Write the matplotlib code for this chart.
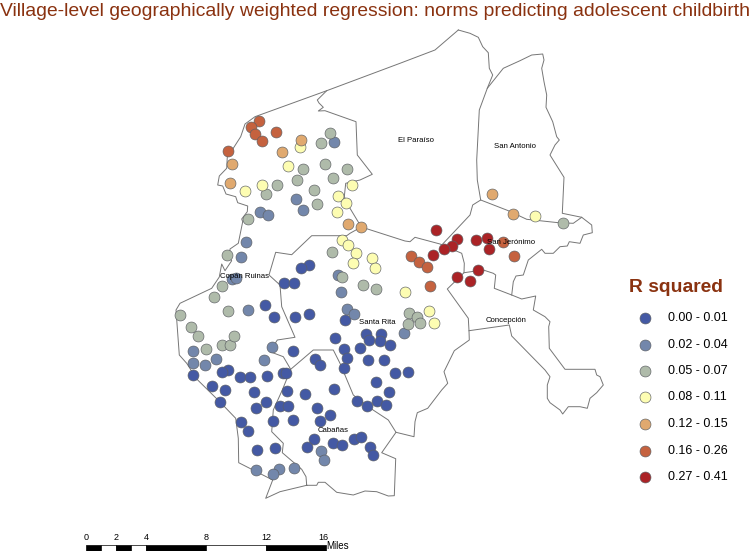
#!/usr/bin/env python3

import matplotlib
matplotlib.use('Agg')
import matplotlib.pyplot as plt

plt.rcParams['font.family'] = ['Liberation Sans', 'DejaVu Sans']

# Villages per class, positions
r1_x = [309.3, 300.7, 284.3, 294.3, 265.3, 273.7, 295.3, 308.7, 335, 293, 315, 320, 228.3, 222.3, 193, 240, 249.7, 266.7, 282.7, 286, 211.5, 224.8, 253.5, 287.3, 304.7, 333.5, 344.3, 220, 266, 255.7, 280, 287.7, 317.3, 330, 320, 292.7, 272.7, 241, 247.7, 314.3, 307, 333, 342, 354.3, 361, 370.3, 372.7, 257.3, 275, 376.3, 395, 407.7, 388.5, 377, 386.3, 357.3, 366.8, 345, 365.7, 381, 368.7, 379.7, 389.7, 343.7, 360, 346.7, 367.7, 384.3]
r1_y = [264.7, 268, 282.7, 282.7, 305, 316.7, 317.3, 314.3, 338, 350.7, 359.3, 364.7, 370.3, 372.3, 374.7, 377, 377, 375.7, 373.3, 372.7, 385.5, 389.8, 391.8, 391, 393.7, 388.5, 368.3, 402, 402.3, 408.3, 406, 405.7, 407.7, 414.7, 421.3, 420.3, 421.3, 422, 430.7, 439, 446.7, 442.7, 444.7, 438.7, 437.3, 446.7, 454.7, 450.3, 448, 381.7, 373.3, 371.7, 391.7, 400.8, 405.2, 400.7, 405.7, 320.3, 334, 334, 340, 341.3, 344.7, 349.3, 348, 358.3, 360, 359.7]

r2_x = [334, 295.7, 303, 260, 267.7, 246, 240.7, 231.7, 236, 247.7, 272.3, 263.7, 192.7, 192.7, 205, 216.3, 337.7, 340.7, 347, 353.7, 404.3, 321, 323.7, 255.7, 278.7, 273.3, 293.7]
r2_y = [142, 199, 210, 212.3, 215.3, 241.5, 257.3, 279.3, 278.3, 310, 346.7, 359.7, 351.3, 362.7, 365, 359, 275, 291.5, 308.7, 314.3, 333.3, 451.3, 460.3, 469.7, 468.7, 474, 468]

r3_x = [330, 321, 303.3, 324.7, 346.7, 333, 297, 277, 266, 314.3, 317, 247.7, 332, 227, 221.7, 214, 228.3, 180.3, 191, 197.7, 206, 221.7, 230, 233.7, 341.7, 362.7, 376.3, 408.7, 417.3, 420, 407.7, 563.3]
r3_y = [132.7, 143.3, 169, 163.7, 169.3, 177.7, 179.7, 185.3, 194.3, 189.7, 203.7, 218.7, 252.3, 254.7, 285.7, 297.3, 310.7, 314.7, 327.3, 336, 349.3, 345.3, 344.7, 336, 276.7, 284.7, 289.3, 312.7, 317.3, 322.7, 323.7, 223.3]

r4_x = [300.3, 287.7, 262, 245, 352.3, 338.3, 345.7, 337.3, 341.7, 348, 356, 372.3, 352.7, 375, 405, 428.7, 433.7, 534.7]
r4_y = [147.3, 165.7, 184.7, 191, 185.3, 195.7, 203.3, 211.7, 239.7, 245, 253, 258, 263.3, 268, 291.7, 311, 323.3, 215.7]

r5_x = [301, 282, 232, 229.7, 347.7, 361.3, 491.7, 512.7]
r5_y = [140, 151.7, 163.7, 183, 224.3, 227, 193.7, 214]

r6_x = [258.7, 251.3, 254.7, 262.3, 276, 228.3, 410.7, 418.7, 427, 502.7, 513.7, 430]
r6_y = [120.7, 127.3, 133.7, 141.3, 131.7, 150.7, 255.7, 262, 267, 242.3, 256.3, 285.7]

r7_x = [435.7, 457, 451.7, 444, 432.7, 475.7, 487.3, 488.7, 478.3, 456.7, 470.3]
r7_y = [230, 239.3, 246.3, 249, 255.3, 240.3, 238, 249, 270, 277, 280.7]

class_x = [r1_x, r2_x, r3_x, r4_x, r5_x, r6_x, r7_x]
class_y = [r1_y, r2_y, r3_y, r4_y, r5_y, r6_y, r7_y]
class_labels = ['0.00 - 0.01', '0.02 - 0.04', '0.05 - 0.07', '0.08 - 0.11', '0.12 - 0.15', '0.16 - 0.26', '0.27 - 0.41']
class_colors = ['#4459a4', '#7387ab', '#afbbaa', '#fdfdb2', '#e0a96f', '#c5623f', '#ab2326']

# Municipality borders
borders = [
    # outer edge, west and north
    [(458.3, 30), (435, 50), (400, 63.3), (326.7, 90.7), (255, 116.7), (245, 124), (240.7, 136.7), (231.7, 150.7), (227.3, 156.7), (226.7, 168.3), (219.3, 176), (217.7, 185), (222.7, 186), (226, 194), (235.7, 196.7), (237.7, 202.7), (247.7, 206), (247.3, 211.7), (241.7, 219), (242.7, 221.7), (238.3, 243.3), (230, 249), (229.5, 258), (231.7, 260.7), (225, 270.7), (221.7, 264), (219.3, 277), (211.7, 288.3), (180, 303.3), (176, 310), (179.3, 355), (186.7, 363.3), (196.7, 379), (220, 402), (235.7, 418.3), (238.3, 438.3), (238.7, 462.7), (272.7, 480), (265.7, 498.3), (280, 491.7), (306.7, 485.3), (316.7, 485.3), (318.3, 482.3), (325, 482.3), (336.7, 492.3), (353.3, 495), (365, 491), (376.7, 491.7), (388.3, 496), (394.3, 495.7), (395.7, 458.7), (381.7, 452.7), (396, 432.3), (414, 436.7), (415, 421.7), (417.3, 412.7), (427.7, 408.3), (441.7, 390), (447.7, 383.3), (444, 371.7), (454.3, 350.7), (469.3, 340), (469, 330.7), (468.3, 318.3), (447.3, 289), (464, 272.7), (464.3, 263.3), (461.7, 253.3), (440, 244), (415, 237.3), (410, 241.7), (405, 241), (361.3, 227), (350, 233.3), (346.7, 235.7), (311.7, 235.7), (291.7, 254.7), (275.7, 252.3), (269, 275), (280, 285), (281.7, 306.7), (295, 337.3), (277.3, 340), (270, 351.7), (283.3, 356.7), (290.7, 369.3), (282.3, 390), (273.3, 410), (271.7, 431.7), (283.3, 443.3), (282.3, 452.7), (301.7, 469.3), (306, 476.7), (306.7, 485.3)],
    # El Paraiso, north and east
    [(458.3, 30), (470, 33.3), (478.3, 37.3), (482.7, 46.7), (488.3, 52.7), (489.3, 68.3), (492.7, 75), (487.3, 88.3), (479.3, 110), (476.7, 160), (477.3, 180), (480.7, 200), (472.7, 205), (470, 215), (442.7, 244)],
    # San Antonio and east edge
    [(487.3, 88.3), (503.3, 68.3), (520, 60.7), (531.7, 55), (542.7, 54), (544, 60), (541.7, 68.3), (544, 81.7), (546.7, 95), (546, 107.3), (552.7, 121.7), (556.7, 136.7), (559.3, 140), (555, 145), (550, 155), (564, 177.3), (562.3, 213.3), (581.7, 217.3), (591.7, 225), (592.3, 232.7), (583.3, 235), (580, 243.3), (569.3, 241.7), (567.3, 246), (560, 246.7), (553.3, 253.3), (545, 253.3), (541.7, 249.3), (528.3, 260), (523.3, 275), (516, 276), (513.3, 281.7), (511.7, 295)],
    [(480.7, 200), (508.3, 210.7), (526.7, 219.3), (558.3, 222.7), (573.3, 223.3), (581.7, 217.3)],
    # Concepcion and the south east lobe
    [(464, 272.7), (483.3, 270), (493.3, 273.3), (495.7, 275), (494.3, 288.3), (511.7, 295), (521.7, 299), (535.7, 296), (533.3, 310), (545, 316.7), (550, 321.7), (548.7, 326.7), (549.3, 348.3), (565, 369.3), (595, 369.3), (596.7, 375), (600, 376.7), (603.3, 385), (596.7, 392.7), (590, 398.3), (587.3, 408.3), (580, 406.7), (568.3, 406.7), (562.7, 414), (560, 410), (550, 402.7), (547.3, 398.3), (547.3, 385), (550, 376.7), (545, 370), (511.7, 336), (509.3, 325), (469, 330.7)],
    # inner borders, north west and south
    [(326.7, 90.7), (317.3, 100), (319, 103), (323.3, 107.3), (318.3, 111), (325, 110.7), (356, 121.7), (357.3, 155), (372.3, 174.3), (360, 180), (345.7, 183.3), (344.3, 196.7), (350, 208.3), (361.3, 227)],
    [(290.7, 369.3), (313.3, 350), (333.3, 350), (340, 363.3), (353.3, 395), (367, 406), (388.3, 420), (396, 432.3)],
]

town_names = ['El Paraíso', 'San Antonio', 'San Jerónimo', 'Copán Ruinas', 'Santa Rita', 'Concepción', 'Cabañas']
town_x = [416, 515, 511, 244, 377, 506, 333]
town_y = [141, 146, 242, 277, 323, 321, 430]

scale_miles = [0, 1, 2, 3, 4, 8, 12, 16]
scale_ticks = [0, 2, 4, 8, 12, 16]

fig = plt.figure(figsize=(7.5, 5.51), dpi=100)
ax = fig.add_axes([0, 0, 1, 1])
ax.set_xlim(0, 750)
ax.set_ylim(551, 0)
ax.axis('off')

for b in borders:
    ax.plot([p[0] for p in b], [p[1] for p in b], color='#767676', lw=0.7, zorder=1)

for xs, ys, c in zip(class_x, class_y, class_colors):
    ax.scatter(xs, ys, s=62, color=c, edgecolors='#5c5f63', linewidths=0.45, zorder=2)

for name, x, y in zip(town_names, town_x, town_y):
    ax.text(x, y, name, fontsize=5.6, ha='center', va='center', color='black', zorder=3)

ax.text(375, 12, 'Village-level geographically weighted regression: norms predicting adolescent childbirth',
        fontsize=13.95, ha='center', va='center', color='#8a3210')

# Legend
ax.text(676, 288, 'R squared', fontsize=13.9, fontweight='bold', ha='center', va='center', color='#8a3210')
legend_y = [318, 345, 371, 397, 424, 451, 477]
for y, c, lab in zip(legend_y, class_colors, class_labels):
    ax.scatter([645], [y], s=62, color=c, edgecolors='#5c5f63', linewidths=0.45)
    ax.text(668, y, lab, fontsize=9, ha='left', va='center', color='black')

# Scale bar, 15 px to the mile
for i in range(len(scale_miles) - 1):
    a, b = scale_miles[i], scale_miles[i + 1]
    ax.fill_between([86 + 15*a, 86 + 15*b], 545, 550.5, color='white' if i % 2 else 'black', ec='black', lw=0.5)
for m in scale_ticks:
    ax.text(86 + 15*m - (3 if m == 16 else 0), 538, str(m), fontsize=6.5, ha='center', va='center')
ax.text(326, 546, 'Miles', fontsize=7, ha='left', va='center')

fig.savefig('out.png', dpi=100)
